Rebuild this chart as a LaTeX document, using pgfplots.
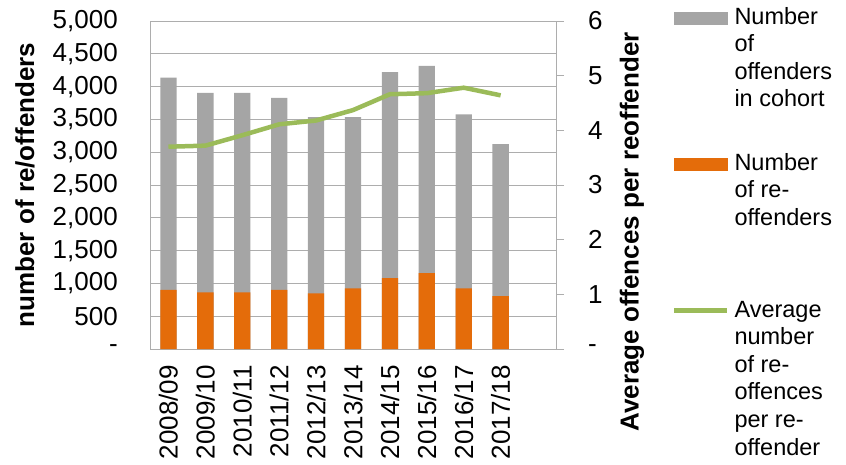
\documentclass[border=0pt]{standalone}
\usepackage{pgfplots}
\usepackage{pgfplotstable}
\pgfplotsset{compat=1.18}
\usepackage{fontspec}
\setmainfont{Liberation Sans}

\definecolor{cohortgrey}{HTML}{A5A5A5}
\definecolor{reoforange}{HTML}{E46C0A}
\definecolor{avggreen}{HTML}{9BBB59}
\definecolor{gridgrey}{HTML}{ADADAD}

% cohort size, re-offenders and average re-offences per re-offender
\pgfplotstableread{
idx cohort reoffenders average
0 4138 903 3.70
1 3905 862 3.72
2 3905 862 3.91
3 3829 903 4.11
4 3535 847 4.18
5 3535 923 4.37
6 4219 1080 4.66
7 4315 1156 4.68
8 3575 923 4.78
9 3124 806 4.64
}\datatable

\newcommand{\tickfont}{\fontsize{26}{30}\selectfont}
\newcommand{\legfont}{\fontsize{23.5}{27.6}\selectfont}

\begin{document}
\begin{tikzpicture}
\useasboundingbox (0,0) rectangle (846pt,464pt);

% bars on the left axis
\begin{axis}[
  at={(150pt,115pt)}, anchor=south west,
  scale only axis, width=406pt, height=328pt,
  xmin=-0.5, xmax=10.5, ymin=0, ymax=5000,
  xtick={0,...,9},
  xticklabels={2008/09,2009/10,2010/11,2011/12,2012/13,2013/14,2014/15,2015/16,2016/17,2017/18},
  ytick={0,500,...,5000},
  yticklabels={-,500,{1,000},{1,500},{2,000},{2,500},{3,000},{3,500},{4,000},{4,500},{5,000}},
  ymajorgrids, grid style={gridgrey, line width=1pt},
  axis line style={gridgrey, line width=1pt},
  major tick length=0pt, tick style={draw=none},
  xticklabel style={font=\tickfont, inner sep=0pt, yshift=-16pt, rotate=90, anchor=east},
  yticklabel style={font=\tickfont, inner sep=0pt, xshift=-32pt, anchor=east},
  ylabel={number of re/offenders},
  ylabel style={at={(axis description cs:-0.308,0.5)}, anchor=center, font=\bfseries\tickfont},
]
\addplot[ybar, bar width=16.3pt, bar shift=0pt, fill=cohortgrey, draw=none] table[x=idx, y=cohort] {\datatable};
\addplot[ybar, bar width=16.3pt, bar shift=0pt, fill=reoforange, draw=none] table[x=idx, y=reoffenders] {\datatable};
\end{axis}

% average line on the right axis, with the legend
\begin{axis}[
  at={(150pt,115pt)}, anchor=south west,
  scale only axis, width=406pt, height=328pt,
  xmin=-0.5, xmax=10.5, ymin=0, ymax=6,
  axis x line=none, axis y line*=right,
  ytick={0,...,6}, yticklabels={-,1,2,3,4,5,6},
  tick align=outside, major tick length=8pt,
  ytick style={gridgrey, line width=1pt},
  axis line style={gridgrey, line width=1pt},
  yticklabel style={font=\tickfont, inner sep=0pt, xshift=24pt, anchor=west},
  ylabel={Average offences per reoffender},
  ylabel style={at={(axis description cs:1.187,0.357)}, anchor=center, font=\bfseries\tickfont},
  legend style={at={(axis description cs:1.2857,1.0427)}, anchor=north west,
    draw=none, fill=none, inner sep=0pt, outer sep=0pt,
    row sep=0pt, column sep=5pt, font=\legfont,
    cells={anchor=base west},
    nodes={inner sep=0pt, outer sep=0pt, text depth=, text height=}},
]
\addlegendimage{legend image code/.code={\fill[cohortgrey] (0pt,0pt) rectangle (53pt,12pt);}}
\addlegendentry{\parbox[t][146pt][t]{130pt}{Number\\of\\offenders\\in cohort}}
\addlegendimage{legend image code/.code={\fill[reoforange] (0pt,0pt) rectangle (53pt,12pt);}}
\addlegendentry{\parbox[t][148pt][t]{130pt}{Number\\of re-\\offenders}}
\addplot[avggreen, line width=4.5pt, line join=round, no markers,
  legend image code/.code={\draw[avggreen, line width=4.5pt] (0pt,6.5pt) -- (53pt,6.5pt);}]
  table[x=idx, y=average] {\datatable};
\addlegendentry{\parbox[t]{130pt}{Average\\number\\of re-\\offences\\per re-\\offender}}
\end{axis}
\end{tikzpicture}
\end{document}
